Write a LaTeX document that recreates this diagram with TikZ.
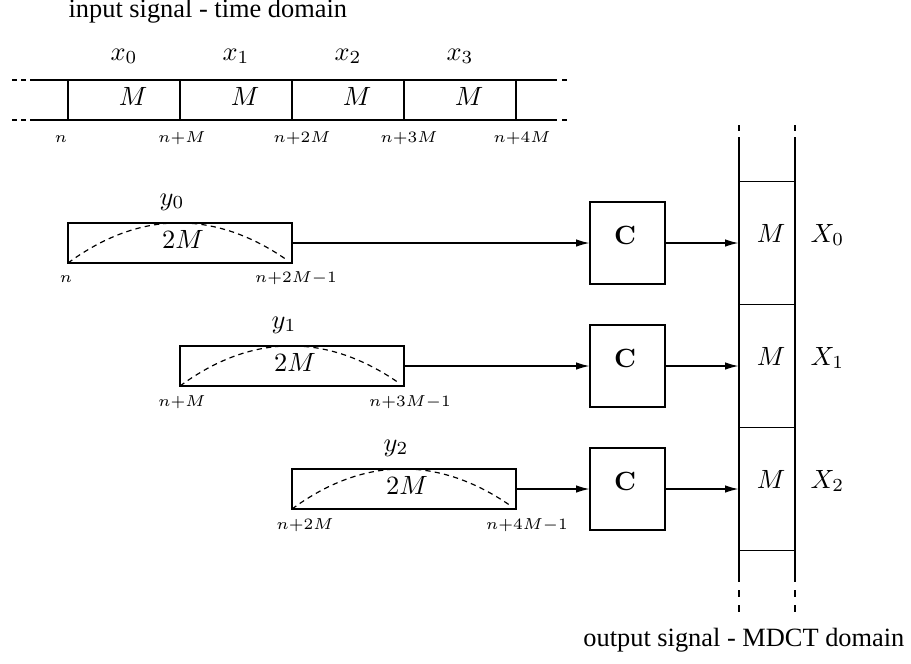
\documentclass[tikz,border=0pt]{standalone}
\usepackage[no-math]{fontspec}
\newfontfamily\timesfont{Liberation Serif}
\usetikzlibrary{arrows.meta}
\newcommand\pxu{0.379pt}
\tikzset{
  every picture/.style={line width=0.45pt},
  lbl/.style={inner sep=0pt, anchor=base},
  tick/.style={inner sep=0pt, anchor=base, font=\fontsize{6}{7}\selectfont},
  winbox/.style={draw, inner sep=0pt, minimum width=224*\pxu, minimum height=40*\pxu},
  cbox/.style={draw, inner sep=0pt, minimum width=75*\pxu, minimum height=82*\pxu},
  cell/.style={inner sep=0pt, minimum width=56*\pxu, minimum height=123*\pxu},
  arr/.style={-{Latex[length=5pt,width=2.8pt]}},
  win/.style={dashed, dash pattern=on 2pt off 1.6pt},
}
\begin{document}
\begin{tikzpicture}[x=0.379pt,y=-0.379pt]
\useasboundingbox (0,0) rectangle (911,663);
% titles
\node[anchor=base west, inner sep=0pt, font=\timesfont] (title) at (68,17) {input signal - time domain};
\node[anchor=base east, inner sep=0pt, font=\timesfont] (outtitle) at (905,646) {output signal - MDCT domain};
% input strip
\draw (30,80) -- (557,80);
\draw (30,120) -- (557,120);
\foreach \yy in {80,120}{
  \draw (12,\yy) -- (17,\yy);
  \draw (21,\yy) -- (26,\yy);
  \draw (562,\yy) -- (567,\yy);
}
\foreach \xx in {68,180,292,404,516}{
  \draw (\xx,80) -- (\xx,120);
}
\node[lbl] (x0) at (124,60) {$x_0$};
\node[lbl] (x1) at (236,60) {$x_1$};
\node[lbl] (x2) at (348,60) {$x_2$};
\node[lbl] (x3) at (460,60) {$x_3$};
\node[lbl] (m0) at (133,105) {$M$};
\node[lbl] (m1) at (245,105) {$M$};
\node[lbl] (m2) at (357,105) {$M$};
\node[lbl] (m3) at (469,105) {$M$};
\node[tick] (t0) at (61,142) {$n$};
\node[tick] (t1) at (182,142) {$n{+}M$};
\node[tick] (t2) at (302,142) {$n{+}2M$};
\node[tick] (t3) at (409,142) {$n{+}3M$};
\node[tick] (t4) at (522,142) {$n{+}4M$};
% window blocks
\node[winbox] (w0) at (180,243) {};
\node[winbox] (w1) at (292,366) {};
\node[winbox] (w2) at (404,489) {};
\draw[win] (68,263) .. controls (140,210) and (215,210) .. (287,260);
\draw[win] (180,386) .. controls (252,333) and (327,333) .. (399,383);
\draw[win] (292,509) .. controls (364,456) and (439,456) .. (511,506);
\node[lbl] (y0) at (172,205) {$y_0$};
\node[lbl] (y1) at (284,328) {$y_1$};
\node[lbl] (y2) at (396,451) {$y_2$};
\node[lbl] (m20) at (183,248) {$2M$};
\node[lbl] (m21) at (295,371) {$2M$};
\node[lbl] (m22) at (407,494) {$2M$};
\node[tick] (a0) at (66,282) {$n$};
\node[tick] (b0) at (296,282) {$n{+}2M{-}1$};
\node[tick] (a1) at (182,406) {$n{+}M$};
\node[tick] (b1) at (410,406) {$n{+}3M{-}1$};
\node[tick] (a2) at (305,529) {$n{+}2M$};
\node[tick] (b2) at (527,529) {$n{+}4M{-}1$};
% C boxes
\node[cbox] (c0) at (627.5,243) {};
\node[cbox] (c1) at (627.5,366) {};
\node[cbox] (c2) at (627.5,489) {};
\node[lbl] (cl0) at (625,244) {$\mathbf{C}$};
\node[lbl] (cl1) at (625,367) {$\mathbf{C}$};
\node[lbl] (cl2) at (625,490) {$\mathbf{C}$};
% output column
\node[cell] (o0) at (767,243) {};
\node[cell] (o1) at (767,366) {};
\node[cell] (o2) at (767,489) {};
\foreach \xx in {739,795}{
  \draw (\xx,137) -- (\xx,582);
  \draw (\xx,125) -- (\xx,131);
  \draw (\xx,590) -- (\xx,597);
  \draw (\xx,605) -- (\xx,612);
}
\foreach \yy in {181.5,304.5,427.5,550.5}{
  \draw (739,\yy) -- (795,\yy);
}
\node[lbl] (om0) at (771,242) {$M$};
\node[lbl] (om1) at (771,365) {$M$};
\node[lbl] (om2) at (771,488) {$M$};
\node[lbl, anchor=base west] (X0) at (810,242) {$X_0$};
\node[lbl, anchor=base west] (X1) at (810,365) {$X_1$};
\node[lbl, anchor=base west] (X2) at (810,488) {$X_2$};
% arrows
\draw[arr] (w0.east) -- (c0.west);
\draw[arr] (w1.east) -- (c1.west);
\draw[arr] (w2.east) -- (c2.west);
\draw[arr] (c0.east) -- (o0.west);
\draw[arr] (c1.east) -- (o1.west);
\draw[arr] (c2.east) -- (o2.west);
\end{tikzpicture}
\end{document}
